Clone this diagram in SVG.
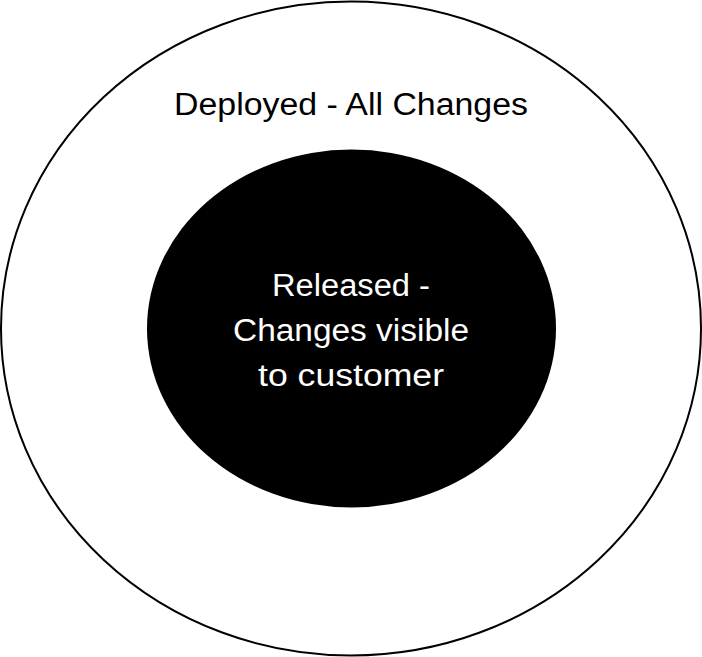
<svg xmlns="http://www.w3.org/2000/svg" width="702" height="657" viewBox="0 0 702 657">
<style>
.t{font-family:"Liberation Sans","DejaVu Sans",sans-serif;font-size:31px;text-anchor:middle}
</style>
<rect width="702" height="657" fill="#fff"/>
<g id="deployed">
<ellipse cx="351" cy="328.5" rx="350" ry="327" fill="#fff" stroke="#000" stroke-width="2"/>
<text class="t" x="351" y="115" fill="#000" textLength="354" lengthAdjust="spacingAndGlyphs">Deployed - All Changes</text>
</g>
<g id="released">
<ellipse cx="351.5" cy="328.5" rx="204.5" ry="179" fill="#000"/>
<text class="t" x="351" y="296" fill="#fff" textLength="158" lengthAdjust="spacingAndGlyphs">Released -</text>
<text class="t" x="351" y="341" fill="#fff" textLength="236" lengthAdjust="spacingAndGlyphs">Changes visible</text>
<text class="t" x="351" y="386" fill="#fff" textLength="186" lengthAdjust="spacingAndGlyphs">to customer</text>
</g>
</svg>
